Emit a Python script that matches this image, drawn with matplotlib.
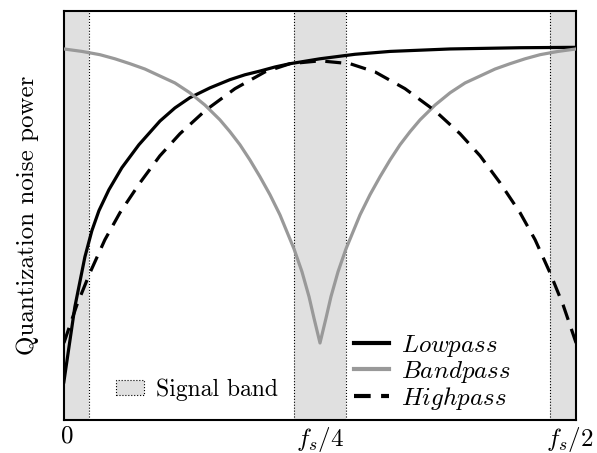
# Noise shaping sketch: lowpass / bandpass / highpass NTF shapes
import numpy as np
import matplotlib.pyplot as plt
import matplotlib.transforms as mtransforms
from matplotlib.patches import Patch
from matplotlib.lines import Line2D

plt.rcParams['font.family'] = 'serif'
plt.rcParams['font.serif'] = ['cmr10']
plt.rcParams['mathtext.fontset'] = 'cm'
plt.rcParams['axes.formatter.use_mathtext'] = True

# frequency in units of fs, level in arbitrary units (0 = bottom, 100 = top)
lp_freq = [0, 0.0107, 0.0205, 0.0273, 0.0342, 0.0439, 0.0566, 0.0732, 0.0938,
           0.1084, 0.1230, 0.1426, 0.1621, 0.1768, 0.1914, 0.2061, 0.2207,
           0.25, 0.2842, 0.3184, 0.3770, 0.4453, 0.5]
lp_level = [9.4, 27.7, 39.9, 46.3, 51.2, 56.3, 61.7, 67.3, 73.1,
            76.3, 78.8, 81.2, 83.2, 84.4, 85.3, 86.3, 87.1,
            88.3, 89.4, 90.1, 90.7, 91.0, 91.1]

# bandpass: distance from fs/4 and level (same on both sides)
bp_offset = [0, 0.0029, 0.0059, 0.0107, 0.0176, 0.0254, 0.0391, 0.0488, 0.0586,
             0.0684, 0.0781, 0.0879, 0.0977, 0.1123, 0.1270, 0.1416, 0.1563,
             0.1709, 0.1855, 0.2002, 0.2148, 0.2324, 0.25]
bp_level = [18.9, 21.9, 25.0, 30.2, 36.3, 41.9, 50.2, 55.1, 59.5,
            63.6, 67.3, 70.5, 73.4, 77.0, 80.0, 82.4, 84.1,
            85.8, 87.1, 88.3, 89.3, 90.1, 90.7]

# highpass: distance from fs/4 and level (same on both sides)
hp_offset = [0, 0.0293, 0.0537, 0.0830, 0.1123, 0.1367, 0.1563, 0.1758,
             0.1953, 0.2100, 0.2246, 0.2373, 0.25]
hp_level = [87.8, 87.1, 85.1, 81.0, 75.6, 70.0, 64.6, 58.0,
            50.7, 44.1, 36.0, 28.2, 18.9]

bands = [(0, 0.025), (0.225, 0.275), (0.475, 0.5)]
tick_pos = [0, 0.25, 0.5]
tick_labels = ['0', r'$f_s/4$', r'$f_s/2$']

def mirror(offset, level):
    off = np.array(offset)
    lev = np.array(level)
    f = np.concatenate([0.25 - off[::-1], 0.25 + off[1:]])
    l = np.concatenate([lev[::-1], lev[1:]])
    return f, l

bp_f, bp_l = mirror(bp_offset, bp_level)
hp_f, hp_l = mirror(hp_offset, hp_level)

fig = plt.figure(figsize=(5.97, 4.53), dpi=100)
ax = fig.add_axes([0.107, 0.072, 0.858, 0.904])

for a, b in bands:
    ax.axvspan(a, b, color='#e0e0e0', lw=0, zorder=0)
    for edge in (a, b):
        if 0 < edge < 0.5:
            ax.axvline(edge, color='black', ls=':', lw=0.8, zorder=1)

ax.plot(lp_freq, lp_level, color='black', lw=2.3, zorder=3)
ax.plot(bp_f, bp_l, color='#999999', lw=2.3, zorder=4)
ax.plot(hp_f, hp_l, color='black', lw=2.3, dashes=(5, 3), zorder=5)

ax.set_xlim(0, 0.5)
ax.set_ylim(0, 100)
ax.set_yticks([])
ax.set_xticks(tick_pos)
ax.set_xticklabels(tick_labels, fontsize=18)
ax.tick_params(axis='x', length=0, pad=3.5)
# keep the f_s/2 label inside the canvas
last = ax.get_xticklabels()[-1]
last.set_transform(last.get_transform() +
                   mtransforms.ScaledTranslation(-6 / 100, 0, fig.dpi_scale_trans))
first = ax.get_xticklabels()[0]
first.set_transform(first.get_transform() +
                    mtransforms.ScaledTranslation(3 / 100, 0, fig.dpi_scale_trans))
ax.set_ylabel('Quantization noise power', fontsize=18, labelpad=18)
for s in ax.spines.values():
    s.set_linewidth(1.5)

handles = [Line2D([], [], color='black', lw=3),
           Line2D([], [], color='#999999', lw=3),
           Line2D([], [], color='black', lw=3, dashes=(4, 2.5))]
leg = ax.legend(handles, [r'$Lowpass$', r'$Bandpass$', r'$Highpass$'],
                loc='lower right', bbox_to_anchor=(0.917, -0.035), frameon=False,
                fontsize=18, handlelength=1.4, handletextpad=0.5, labelspacing=0.0)
ax.add_artist(leg)

sig = Patch(facecolor='#e0e0e0', edgecolor='black', ls=':', lw=0.8)
ax.legend([sig], ['Signal band'], loc='lower left', bbox_to_anchor=(0.06, -0.005),
          frameon=False, fontsize=17, handlelength=1.2, handleheight=0.6,
          handletextpad=0.5)

plt.savefig('out.png', dpi=100)
